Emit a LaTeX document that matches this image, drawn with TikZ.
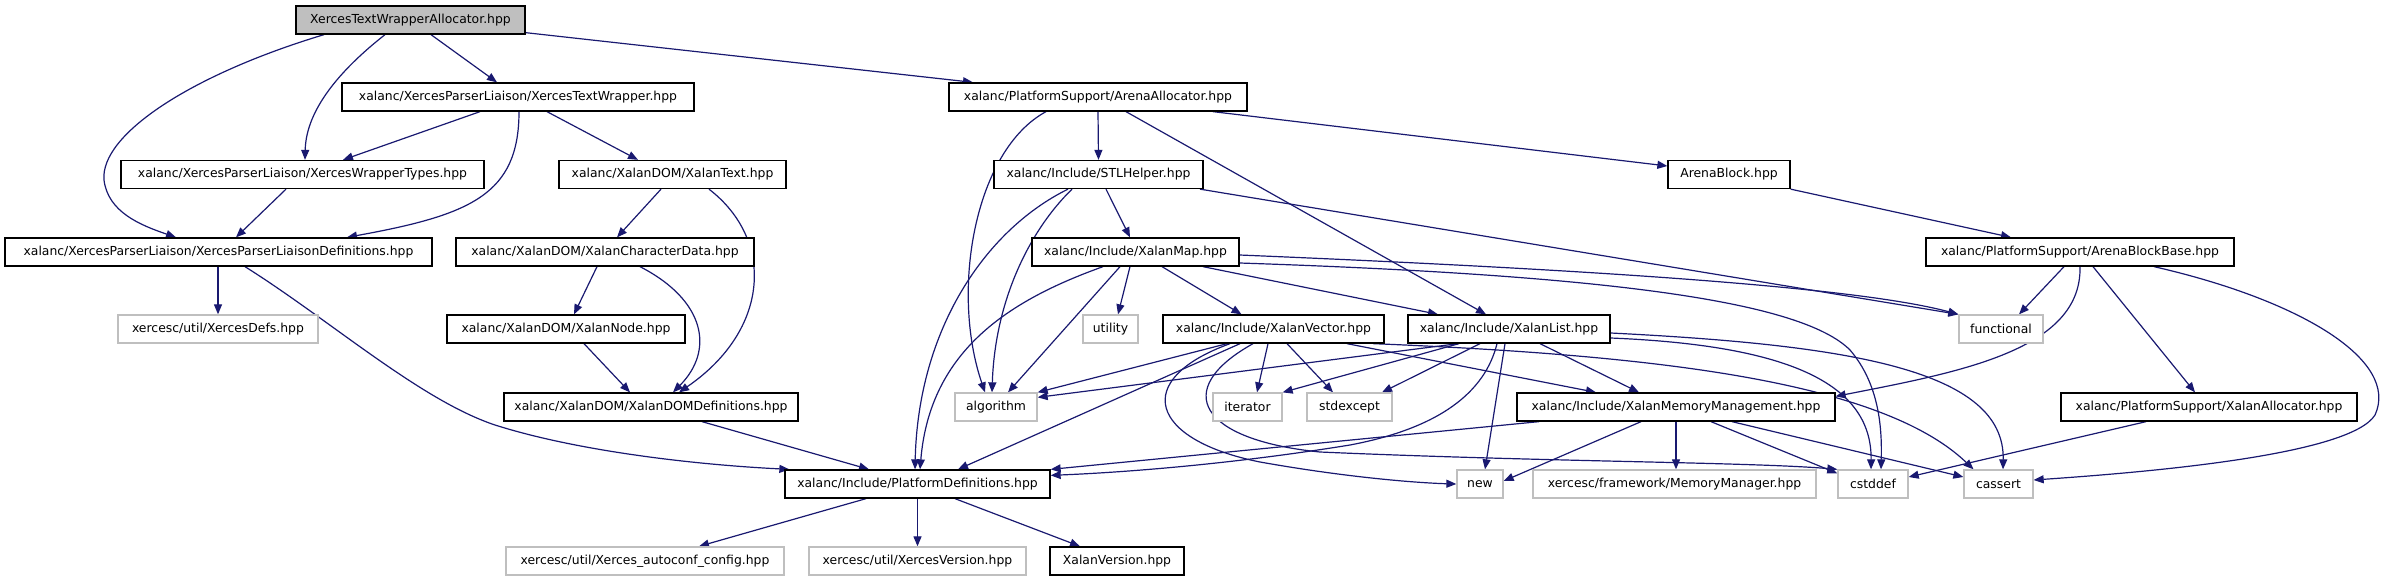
\documentclass[tikz,border=0pt]{standalone}
\usepackage{fontspec}
\newfontfamily\dejavu{DejaVu Sans}
\usetikzlibrary{arrows.meta,backgrounds}
\definecolor{edgec}{HTML}{191970}
\definecolor{lgray}{HTML}{BFBFBF}
\tikzset{
  box/.style={draw=black, line width=1.3pt, minimum height=28pt, inner sep=0pt, fill=white,
    font=\dejavu\fontsize{12.4}{14}\selectfont, text=black},
  ext/.style={box, draw=lgray},
  e/.style={draw=edgec, line width=1.2pt, -{Triangle[length=10pt,width=8pt]}},
}
\begin{document}
\begin{tikzpicture}[x=1pt,y=-1pt]
\useasboundingbox (0,0) rectangle (2390,581);
% row 1
\node[box, fill=lgray, minimum width=229pt] (root) at (410.5,20) {XercesTextWrapperAllocator.hpp};
% row 2
\node[box, minimum width=352pt] (tw) at (518,97) {xalanc/XercesParserLiaison/XercesTextWrapper.hpp};
\node[box, minimum width=298pt] (aa) at (1098,97) {xalanc/PlatformSupport/ArenaAllocator.hpp};
% row 3
\node[box, minimum width=363pt] (wt) at (302.5,174.5) {xalanc/XercesParserLiaison/XercesWrapperTypes.hpp};
\node[box, minimum width=227pt] (xt) at (672.5,174.5) {xalanc/XalanDOM/XalanText.hpp};
\node[box, minimum width=209pt] (stl) at (1098.5,174.5) {xalanc/Include/STLHelper.hpp};
\node[box, minimum width=122pt] (ab) at (1729,174.5) {ArenaBlock.hpp};
% row 4
\node[box, minimum width=427pt] (pld) at (218.5,252) {xalanc/XercesParserLiaison/XercesParserLiaisonDefinitions.hpp};
\node[box, minimum width=298pt] (cd) at (605,252) {xalanc/XalanDOM/XalanCharacterData.hpp};
\node[box, minimum width=207pt] (map) at (1135.5,252) {xalanc/Include/XalanMap.hpp};
\node[box, minimum width=308pt] (abb) at (2080,252) {xalanc/PlatformSupport/ArenaBlockBase.hpp};
% row 5
\node[ext, minimum width=200pt] (xd) at (218,329) {xercesc/util/XercesDefs.hpp};
\node[box, minimum width=238pt] (nd) at (566,329) {xalanc/XalanDOM/XalanNode.hpp};
\node[ext, minimum width=55pt] (util) at (1110.5,329) {utility};
\node[box, minimum width=221pt] (vec) at (1273.5,329) {xalanc/Include/XalanVector.hpp};
\node[box, minimum width=202pt] (list) at (1509,329) {xalanc/Include/XalanList.hpp};
\node[ext, minimum width=84pt] (func) at (2001,329) {functional};
% row 6
\node[box, minimum width=294pt] (dd) at (651,407) {xalanc/XalanDOM/XalanDOMDefinitions.hpp};
\node[ext, minimum width=82pt] (alg) at (996,407) {algorithm};
\node[ext, minimum width=69pt] (iter) at (1247.5,407) {iterator};
\node[ext, minimum width=85pt] (stdx) at (1349.5,407) {stdexcept};
\node[box, minimum width=318pt] (mm) at (1676,407) {xalanc/Include/XalanMemoryManagement.hpp};
\node[box, minimum width=296pt] (xa) at (2209,407) {xalanc/PlatformSupport/XalanAllocator.hpp};
% row 7
\node[box, minimum width=265pt] (pd) at (917.5,484) {xalanc/Include/PlatformDefinitions.hpp};
\node[ext, minimum width=46pt] (new) at (1480,484) {new};
\node[ext, minimum width=283pt] (mgr) at (1674.5,484) {xercesc/framework/MemoryManager.hpp};
\node[ext, minimum width=70pt] (cstd) at (1873,484) {cstddef};
\node[ext, minimum width=69pt] (cas) at (1998.5,484) {cassert};
% row 8
\node[ext, minimum width=278pt] (auto) at (645,561) {xercesc/util/Xerces\_autoconf\_config.hpp};
\node[ext, minimum width=217pt] (xv) at (917.5,561) {xercesc/util/XercesVersion.hpp};
\node[box, minimum width=134pt] (xlv) at (1117,561) {XalanVersion.hpp};

\begin{pgfonlayer}{background}
\draw[e] ([xshift=20.5pt]root.south) -- ([xshift=-21pt]tw.north);
\draw[e] ([xshift=-25.5pt]root.south) .. controls (340,70) and (306,110) .. ([xshift=2.5pt]wt.north);
\draw[e] ([xshift=-86.5pt]root.south) .. controls (190,75) and (100,135) .. (104,180) .. controls (108,212) and (140,225) .. ([xshift=-42.5pt]pld.north);
\draw[e] ([yshift=2pt]root.south east) -- ([xshift=-125pt]aa.north);
\draw[e] ([xshift=-38pt]tw.south) -- ([xshift=40.5pt]wt.north);
\draw[e] ([xshift=1pt]tw.south) .. controls (519,195) and (470,215) .. ([xshift=128.5pt]pld.north);
\draw[e] ([xshift=29pt]tw.south) -- ([xshift=-34.5pt]xt.north);
\draw[e] ([xshift=-16.5pt]wt.south) -- ([xshift=17.5pt]pld.north);
\draw[e] ([xshift=-0.5pt]pld.south) -- (xd.north);
\draw[e] ([xshift=26.5pt]pld.south) .. controls (330,320) and (420,400) .. (495,425) .. controls (580,452) and (700,465) .. ([xshift=5pt]pd.north west);
\draw[e] ([xshift=-11.5pt]xt.south) -- ([xshift=12pt]cd.north);
\draw[e] ([xshift=36.5pt]xt.south) .. controls (775,240) and (770,330) .. ([xshift=28pt]dd.north);
\draw[e] ([xshift=-8pt]cd.south) -- ([xshift=8pt]nd.north);
\draw[e] ([xshift=35pt]cd.south) .. controls (705,300) and (715,350) .. ([xshift=22pt]dd.north);
\draw[e] ([xshift=18pt]nd.south) -- ([xshift=-21pt]dd.north);
\draw[e] ([xshift=51pt]dd.south) -- ([xshift=-48.5pt]pd.north);
\draw[e] ([xshift=-51.5pt]pd.south) -- ([xshift=54pt]auto.north);
\draw[e] (pd.south) -- (xv.north);
\draw[e] ([xshift=37.5pt]pd.south) -- ([xshift=-37pt]xlv.north);
\draw[e] ([xshift=-52pt]aa.south) .. controls (975,150) and (950,290) .. ([xshift=-11pt]alg.north);
\draw[e] (aa.south) -- (stl.north);
\draw[e] ([xshift=28pt]aa.south) -- ([xshift=-23pt]list.north);
\draw[e] ([xshift=115pt]aa.south) -- ([yshift=8.5pt]ab.west);
\draw[e] ([xshift=-26.5pt]stl.south) .. controls (1030,230) and (995,300) .. ([xshift=-4pt]alg.north);
\draw[e] ([xshift=-30.5pt]stl.south) .. controls (985,230) and (918,330) .. ([xshift=-2.5pt]pd.north);
\draw[e] ([xshift=7.5pt]stl.south) -- ([xshift=-5.5pt]map.north);
\draw[e] ([xshift=101.5pt]stl.south) -- (func.north west);
\draw[e] ([xshift=-32.5pt]map.south) .. controls (1010,300) and (930,350) .. ([xshift=2.5pt]pd.north);
\draw[e] ([xshift=-15.5pt]map.south) -- ([xshift=12pt]alg.north);
\draw[e] ([xshift=-5.5pt]map.south) -- ([xshift=7.5pt]util.north);
\draw[e] ([xshift=26.5pt]map.south) -- ([xshift=-32pt]vec.north);
\draw[e] ([xshift=67.5pt]map.south) -- ([xshift=-71pt]list.north);
\draw[e] ([yshift=-3pt]map.east) .. controls (1550,268) and (1850,285) .. (func.north west);
\draw[e] ([yshift=-11pt]map.east) .. controls (1600,275) and (1800,300) .. (1850,350) .. controls (1880,385) and (1882,430) .. ([xshift=8pt]cstd.north);
\draw[e] ([xshift=-46.5pt]vec.south) -- (alg.north east);
\draw[e] ([xshift=-33.5pt]vec.south) -- ([xshift=40.5pt]pd.north);
\draw[e] ([xshift=-5.5pt]vec.south) -- ([xshift=9.5pt]iter.north);
\draw[e] ([xshift=13.5pt]vec.south) -- ([xshift=-16.5pt]stdx.north);
\draw[e] ([xshift=-43.5pt]vec.south) .. controls (1130,380) and (1150,440) .. (1260,462) .. controls (1350,478) and (1420,483) .. (new.west);
\draw[e] ([xshift=73.5pt]vec.south) -- ([xshift=-80pt]mm.north);
\draw[e] ([xshift=-20.5pt]vec.south) .. controls (1170,390) and (1200,440) .. (1320,452) .. controls (1550,462) and (1750,462) .. (cstd.north west);
\draw[e] ([xshift=100pt]vec.south) .. controls (1650,355) and (1880,380) .. ([xshift=-25pt]cas.north);
\draw[e] ([xshift=-51pt]list.south) -- ([yshift=-5pt]alg.north east);
\draw[e] ([xshift=-12pt]list.south) .. controls (1485,392) and (1440,428) .. (1350,445) .. controls (1220,466) and (1110,473) .. ([yshift=-6pt]pd.north east);
\draw[e] ([xshift=-50pt]list.south) -- (iter.north east);
\draw[e] ([xshift=-29pt]list.south) -- ([xshift=32.5pt]stdx.north);
\draw[e] ([xshift=-4pt]list.south) -- ([xshift=5pt]new.north);
\draw[e] ([xshift=31pt]list.south) -- ([xshift=-37pt]mm.north);
\draw[e] ([yshift=-9pt]list.east) .. controls (1780,345) and (1872,380) .. ([xshift=-2pt]cstd.north);
\draw[e] ([yshift=-4pt]list.east) .. controls (1850,345) and (2005,370) .. ([xshift=4.5pt]cas.north);
\draw[e] ([xshift=-137pt]mm.south) -- (pd.north east);
\draw[e] ([xshift=-35pt]mm.south) -- ([yshift=3pt]new.east);
\draw[e] (mm.south) -- ([xshift=1.5pt]mgr.north);
\draw[e] ([xshift=35pt]mm.south) -- ([yshift=-4pt]cstd.north west);
\draw[e] ([xshift=56pt]mm.south) -- ([yshift=7pt]cas.west);
\draw[e] (ab.south east) -- ([xshift=-69pt]abb.north);
\draw[e] ([xshift=-16pt]abb.south) -- ([xshift=18pt]func.north);
\draw[e] (abb.south) .. controls (2082,350) and (1960,372) .. ([yshift=-4pt]mm.north east);
\draw[e] ([xshift=13pt]abb.south) -- ([xshift=-14pt]xa.north);
\draw[e] ([xshift=74pt]abb.south) .. controls (2300,300) and (2400,360) .. (2375,415) .. controls (2350,455) and (2150,472) .. ([yshift=4pt]cas.east);
\draw[e] ([xshift=-63pt]xa.south) -- ([yshift=7pt]cstd.east);
\end{pgfonlayer}
\end{tikzpicture}
\end{document}
